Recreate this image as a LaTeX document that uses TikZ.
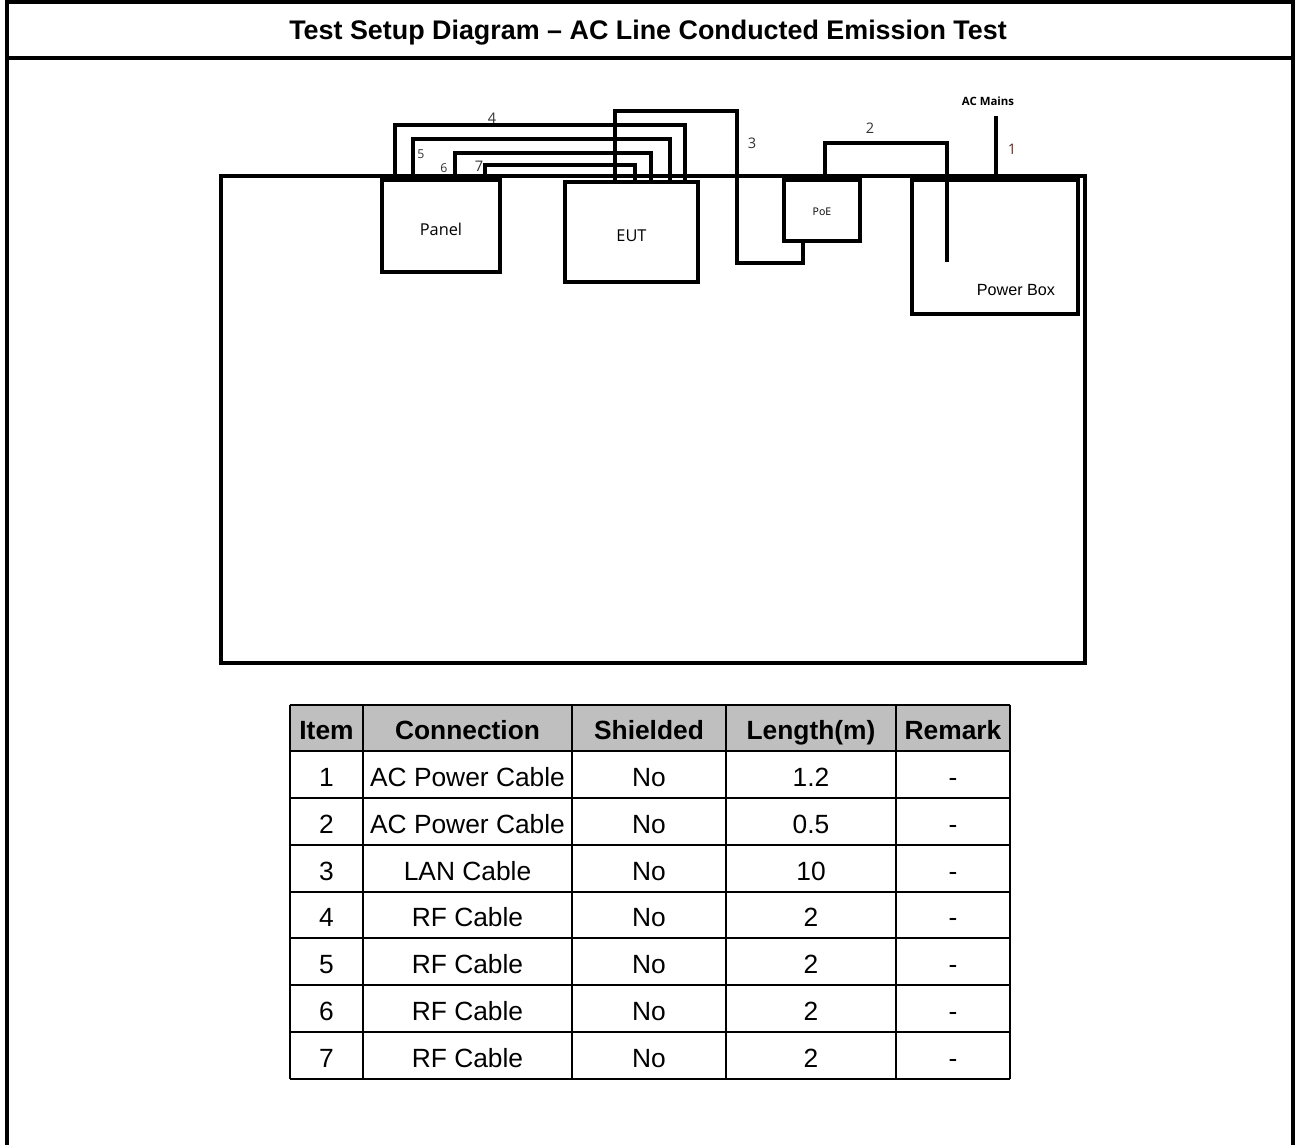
\documentclass[tikz,border=0pt]{standalone}
\usepackage{fontspec}
\setmainfont{Liberation Sans}
\newfontfamily\uifont{Open Sans}

\tikzset{
  box/.style={draw, line width=2.3pt, inner sep=0pt, outer sep=0pt, text height=12.5pt, text depth=2pt, font=\uifont\fontsize{9.3}{10}\selectfont},
  cable/.style={line width=2.3pt},
  num/.style={font=\uifont\fontsize{8.3}{9}\selectfont, text=black!80},
  tline/.style={line width=1.1pt},
  cell/.style={font=\fontsize{15}{17}\selectfont, inner sep=0pt, text height=15.5pt, text depth=2pt},
  headcell/.style={cell, font=\bfseries\fontsize{15}{17}\selectfont},
}

\begin{document}
\begin{tikzpicture}[x=0.02cm, y=-0.02cm]
    \useasboundingbox (0,0) rectangle (1296,1145);

    % frame and title
    \draw[line width=2.3pt] (7,1170) -- (7,2) -- (1293,2) -- (1293,1170);
    \draw[line width=2.3pt] (7,58) -- (1293,58);
    \node[font=\bfseries\fontsize{15.3}{17}\selectfont, text height=11pt, text depth=3pt] (title) at (648,32) {Test Setup Diagram -- AC Line Conducted Emission Test};

    % bench and units
    \node[draw, line width=1.9pt, inner sep=0pt, outer sep=0pt, minimum width=17.28cm, minimum height=9.74cm] (bench) at (653,419.5) {};
    \node[box, minimum width=2.36cm, minimum height=1.84cm] (panel) at (441,226) {Panel};
    \node[box, minimum width=2.66cm, minimum height=2cm] (eut) at (631.5,232) {EUT};
    \node[box, minimum width=1.52cm, minimum height=1.22cm, text height=7pt, text depth=1pt, font=\uifont\fontsize{6}{7}\selectfont] (poe) at (822,210.5) {PoE};
    \node[box, minimum width=3.32cm, minimum height=2.68cm] (pbox) at (995,247) {};
    \node[font=\fontsize{9.2}{10}\selectfont] (pboxlbl) at (1016,290) {Power Box};

    % RF cables 4-7
    \foreach \xa/\xb/\yt in {395/685/125, 413/670/139, 455/651/153, 485/635/165}
        \draw[cable] (panel.north -| \xa,0) |- (\xb,\yt) -- (eut.north -| \xb,0);

    % LAN cable 3
    \draw[cable] (eut.north -| 615,0) |- (737,111) |- (803,263) -- (poe.south -| 803,0);

    % AC power cables 2 and 1
    \coordinate (pbfeed) at (947,262);
    \draw[cable] (poe.north -| 825,0) |- (947,143) -- (pbfeed);
    \coordinate (mains) at (996,116);
    \draw[cable] (mains) -- (pbox.north -| mains);

    % cable numbers
    \node[num] (n4) at (492,118) {4};
    \node[num, font=\uifont\fontsize{7}{8}\selectfont] (n5) at (421,154) {5};
    \node[num, font=\uifont\fontsize{7}{8}\selectfont] (n6) at (444,168) {6};
    \node[num] (n7) at (479,166) {7};
    \node[num] (n3) at (752,143) {3};
    \node[num] (n2) at (870,128) {2};
    \node[num, text={rgb,255:red,90;green,45;blue,35}] (n1) at (1012,149) {1};
    \node[font=\uifont\bfseries\fontsize{6.5}{8}\selectfont] (acmains) at (988,101) {AC Mains};

    % cable table
    \fill[gray!50] (290,705) rectangle (1010,751);
    \draw[tline] (290,705) -- (1010,705);
    \foreach \i [evaluate=\i as \y using 751+\i*46.857] in {0,...,7}
        \draw[tline] (290,\y) -- (1010,\y);
    \foreach \x in {290,363,572,726,896,1010}
        \draw[tline] (\x,705) -- (\x,1079);

    \foreach \x/\t [count=\c] in {326.5/Item, 467.5/Connection, 649/Shielded, 811/{Length(m)}, 953/Remark}
        \node[headcell] (h\c) at (\x,728) {\t};
    \foreach \i/\conn/\len in {1/AC Power Cable/1.2, 2/AC Power Cable/0.5, 3/LAN Cable/10, 4/RF Cable/2, 5/RF Cable/2, 6/RF Cable/2, 7/RF Cable/2} {
        \pgfmathsetmacro\y{751+(\i-0.5)*46.857}
        \node[cell] (item\i) at (326.5,\y) {\i};
        \node[cell] (conn\i) at (467.5,\y) {\conn};
        \node[cell] (shld\i) at (649,\y) {No};
        \node[cell] (len\i) at (811,\y) {\len};
        \node[cell] (rmk\i) at (953,\y) {-};
    }
\end{tikzpicture}
\end{document}
